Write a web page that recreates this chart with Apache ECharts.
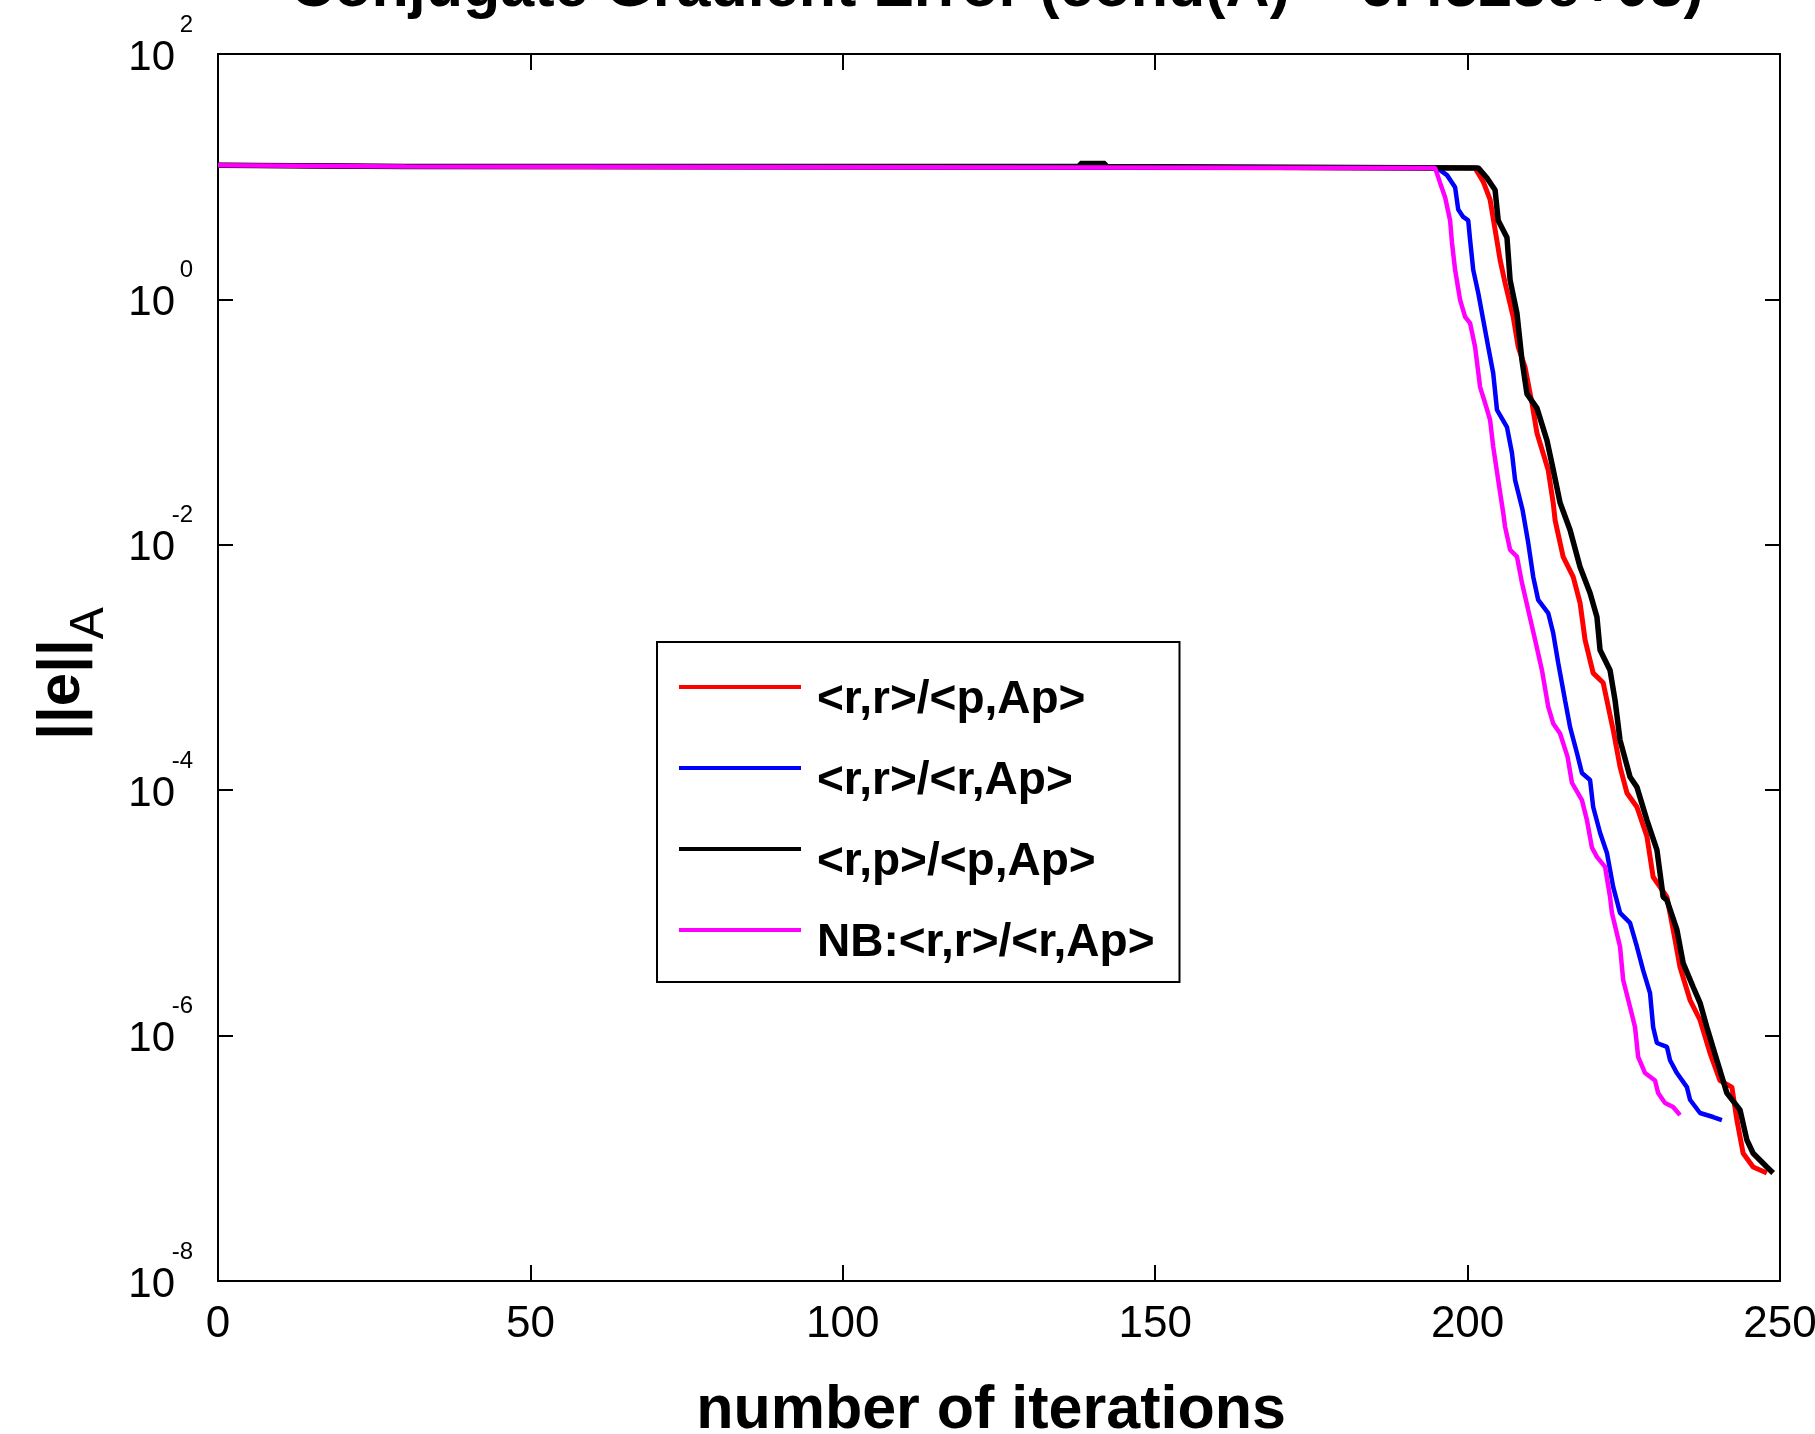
<!DOCTYPE html>
<html><head><meta charset="utf-8">
<script src="https://cdn.jsdelivr.net/npm/echarts@6/dist/echarts.min.js"></script>
<style>html,body{margin:0;padding:0;background:#fff}#c{width:1815px;height:1434px}</style>
</head><body><div id="c"></div>
<script>
const titleText = 'Conjugate Gradient Error (cond(A) = 6.4523e+03)';
const xName = 'number of iterations';
const seriesNames = ['<r,r>/<p,Ap>', '<r,r>/<r,Ap>', '<r,p>/<p,Ap>', 'NB:<r,r>/<r,Ap>'];
const seriesColors = ['#ff0000', '#0000ff', '#000000', '#ff00ff'];
const xTickValues = [0, 50, 100, 150, 200, 250];
const yTickValues = [1e-8, 1e-6, 1e-4, 1e-2, 1, 1e2];

const redIter = [0,30,201.2,202.5,203.6,204.4,205.2,206.0,207.3,208.1,209.2,210.3,211.1,212.9,213.7,214.0,215.3,216.9,218.0,218.8,220.1,221.7,223.3,224.4,225.5,227.1,228.7,229.7,231.9,232.9,234.0,235.6,237.2,238.8,240.4,242.3,243.1,244.1,245.7,247.9];
const redErr = [12.4,12.1,11.8,9.1,6.5,3.7,2.1,1.36,0.72,0.41,0.28,0.143,0.0815,0.0407,0.022,0.0159,0.00796,0.00547,0.00336,0.00168,9.0e-4,7.5e-4,3.1e-4,1.55e-4,9.5e-5,7.3e-5,4.2e-5,1.96e-5,1.35e-5,7.3e-6,3.6e-6,1.95e-6,1.34e-6,7.2e-7,4.3e-7,3.8e-7,2.05e-7,1.10e-7,8.5e-8,7.6e-8];

const blueIter = [0,30,195.1,196.7,198.0,198.5,199.3,200.1,200.4,200.9,201.7,202.5,203.3,204.1,204.7,206.3,207.1,207.6,208.8,209.7,210.5,211.3,212.9,213.7,214.5,215.6,216.4,217.5,218.3,219.6,220.1,221.2,222.3,223.3,224.4,226.0,227.1,228.1,229.2,229.7,230.3,231.9,232.4,233.5,235.1,235.6,237.2,239.3,240.7];
const blueErr = [12.4,12.1,11.8,10.3,8.2,5.4,4.7,4.4,3.05,1.74,1.13,0.68,0.41,0.25,0.126,0.091,0.056,0.0337,0.0192,0.0104,0.0055,0.00355,0.00278,0.00191,0.00109,5.4e-4,3.27e-4,2.01e-4,1.38e-4,1.21e-4,7.3e-5,4.5e-5,3.08e-5,1.63e-5,1.0e-5,8.3e-6,5.3e-6,3.4e-6,2.22e-6,1.17e-6,8.7e-7,8.1e-7,6.3e-7,4.95e-7,3.8e-7,3.0e-7,2.34e-7,2.17e-7,2.05e-7];

const blackIter = [0,30,138,138,142,142,201.7,203.1,204.4,204.9,206.3,206.8,207.9,208.7,209.5,211.1,212.7,213.7,214.8,216.4,218.0,219.6,220.7,221.2,222.8,223.6,224.4,226.0,227.1,228.7,230.3,231.3,231.9,233.5,234.5,236.1,237.2,238.3,239.9,241.5,243.6,244.7,245.7,247.9,248.9];
const blackErr = [12.4,12.1,12.1,12.8,12.8,12.1,11.8,9.75,7.8,4.4,3.2,1.44,0.77,0.32,0.17,0.13,0.071,0.041,0.022,0.0132,0.0066,0.00405,0.00258,0.00139,9.5e-4,5.4e-4,2.56e-4,1.28e-4,1.06e-4,5.7e-5,3.26e-5,1.35e-5,1.27e-5,7.3e-6,3.9e-6,2.49e-6,1.85e-6,1.17e-6,6.3e-7,3.4e-7,2.48e-7,1.41e-7,1.10e-7,8.5e-8,7.6e-8];

const magentaIter = [0,30,194.8,195.6,196.4,197.2,197.5,198.0,198.8,199.6,200.4,201.2,202.0,202.8,203.6,204.1,204.9,205.7,206.0,206.8,207.9,208.7,209.7,210.8,211.9,212.9,213.7,214.8,216.0,216.7,218.3,219.1,219.9,220.7,222.0,222.8,223.1,224.4,224.9,226.0,226.8,227.3,228.4,230.0,230.5,231.6,232.9,234.0];
const magentaErr = [12.4,12.1,11.8,8.9,6.8,4.4,2.9,1.74,0.99,0.72,0.64,0.41,0.193,0.143,0.104,0.063,0.0337,0.0182,0.0140,0.0091,0.0080,0.0049,0.00294,0.00168,9.5e-4,4.8e-4,3.5e-4,2.9e-4,1.87e-4,1.15e-4,8.3e-5,5.7e-5,3.4e-5,2.86e-5,2.37e-5,1.35e-5,1.0e-5,5.3e-6,2.84e-6,1.71e-6,1.17e-6,6.7e-7,4.95e-7,4.3e-7,3.4e-7,2.82e-7,2.62e-7,2.25e-7];

const pairs = (xs, ys) => xs.map((x, i) => [x, ys[i]]);
const allData = [pairs(redIter, redErr), pairs(blueIter, blueErr), pairs(blackIter, blackErr), pairs(magentaIter, magentaErr)];
const lineWidths = [5, 4.5, 5.5, 4.5];

const numFont = "'Liberation Sans Narrow', 'Liberation Sans', Arial, sans-serif";
const boldFont = "'Liberation Sans', Arial, sans-serif";

const chart = echarts.init(document.getElementById('c'), null, {renderer: 'canvas'});
const yLabelFmt = v => {
  const e = Math.round(Math.log10(v));
  return '{e|' + e + '}\n{b|10}';
};
const yRich = {
  e: {fontSize: 24, lineHeight: 8, fontFamily: numFont, color: '#000'},
  b: {fontSize: 42, lineHeight: 58, fontFamily: numFont, color: '#000', padding: [0, 18, 0, 0]}
};

chart.setOption({
  animation: false,
  backgroundColor: '#fff',
  title: {
    text: titleText, left: 997, top: -41, padding: 0,
    textAlign: 'center',
    textStyle: {fontSize: 61, fontWeight: 'bold', fontFamily: boldFont, color: '#000', lineHeight: 60}
  },
  grid: {left: 218, right: 35, top: 54, bottom: 153, containLabel: false, outerBoundsMode: 'none'},
  legend: {
    orient: 'vertical', left: 657, top: 642,
    data: seriesNames, icon: 'rect', itemWidth: 122, itemHeight: 4, itemGap: 9,
    padding: [9, 25, 16, 22],
    borderColor: '#000', borderWidth: 2, backgroundColor: '#fff',
    formatter: name => '{t|' + name + '}',
    textStyle: {
      color: '#000',
      rich: {t: {fontSize: 46, fontWeight: 'bold', fontFamily: boldFont, color: '#000', lineHeight: 30, padding: [26, 0, 0, 11]}}
    }
  },
  xAxis: [{
    type: 'value', min: 0, max: 250, interval: 50, position: 'bottom',
    name: xName, nameLocation: 'middle', nameGap: 100,
    nameTextStyle: {fontSize: 61, fontWeight: 'bold', fontFamily: boldFont, color: '#000', lineHeight: 60, padding: [0, 16, 0, 0]},
    axisLine: {show: true, lineStyle: {color: '#000', width: 2}},
    axisTick: {show: true, inside: true, length: 16, lineStyle: {color: '#000', width: 2}},
    axisLabel: {show: true, margin: 22, fontSize: 44, fontFamily: numFont, color: '#000', lineHeight: 44},
    splitLine: {show: false}
  }, {
    type: 'value', min: 0, max: 250, interval: 50, position: 'top',
    axisLine: {show: true, onZero: false, lineStyle: {color: '#000', width: 2}},
    axisTick: {show: true, inside: true, length: 16, lineStyle: {color: '#000', width: 2}},
    axisLabel: {show: false}, splitLine: {show: false}
  }],
  yAxis: [{
    type: 'log', logBase: 10, min: 1e-8, max: 1e2, position: 'left',
    name: '{e|||e||}{a|A}', nameLocation: 'middle', nameGap: 126,
    nameTextStyle: {
      color: '#000',
      padding: [0, 12, 0, 0],
      rich: {
        e: {fontSize: 60, fontWeight: 'bold', fontFamily: boldFont, lineHeight: 60, verticalAlign: 'top', color: '#000'},
        a: {fontSize: 48, fontFamily: boldFont, lineHeight: 48, padding: [34, 0, 0, 0], verticalAlign: 'top', color: '#000'}
      }
    },
    axisLine: {show: true, onZero: false, lineStyle: {color: '#000', width: 2}},
    axisTick: {show: true, inside: true, length: 15, customValues: yTickValues, lineStyle: {color: '#000', width: 2}},
    axisLabel: {show: true, margin: 25, customValues: yTickValues, formatter: yLabelFmt, rich: yRich, align: 'right'},
    minorTick: {show: false},
    splitLine: {show: false}
  }, {
    type: 'log', logBase: 10, min: 1e-8, max: 1e2, position: 'right',
    axisLine: {show: true, onZero: false, lineStyle: {color: '#000', width: 2}},
    axisTick: {show: true, inside: true, length: 15, customValues: yTickValues, lineStyle: {color: '#000', width: 2}},
    axisLabel: {show: false}, splitLine: {show: false}
  }],
  series: seriesNames.map((n, i) => ({
    name: n, type: 'line', xAxisIndex: 0, yAxisIndex: 0,
    data: allData[i], showSymbol: false, symbol: 'none',
    color: seriesColors[i],
    lineStyle: {color: seriesColors[i], width: lineWidths[i]},
    z: 2 + i
  }))
});
</script>
</body></html>
